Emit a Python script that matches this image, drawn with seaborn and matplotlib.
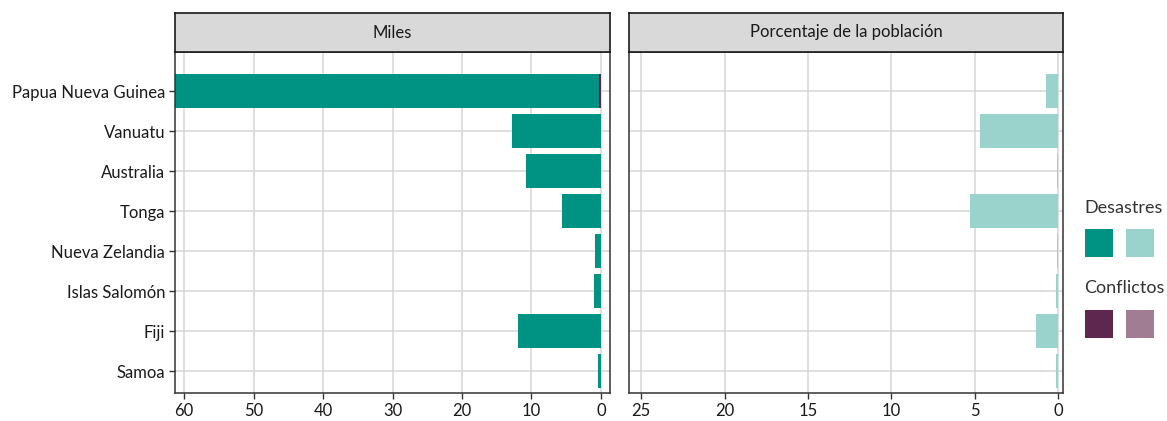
import pandas as pd
import matplotlib.pyplot as plt
import seaborn as sns
from matplotlib.patches import Rectangle

# datos
paises = ['Papua Nueva Guinea', 'Vanuatu', 'Australia', 'Tonga',
          'Nueva Zelandia', 'Islas Salomón', 'Fiji', 'Samoa']
desastres_miles = [61.0, 12.8, 10.8, 5.6, 0.9, 1.05, 12.0, 0.4]
conflictos_miles = [0.25, 0, 0, 0, 0, 0, 0, 0]
desastres_pct = [0.76, 4.72, 0.06, 5.32, 0.05, 0.16, 1.36, 0.16]
conflictos_pct = [0.0, 0, 0, 0, 0, 0, 0, 0]

df = pd.DataFrame({
    'pais': paises,
    'des_miles': desastres_miles,
    'con_miles': conflictos_miles,
    'des_pct': desastres_pct,
    'con_pct': conflictos_pct,
})
df['tot_miles'] = df['des_miles'] + df['con_miles']
df['tot_pct'] = df['des_pct'] + df['con_pct']

teal = '#009383'
teal_claro = '#99D3CC'
morado = '#5E2750'
morado_claro = '#A07D93'

sns.set_theme(style='whitegrid')
plt.rcParams['font.family'] = ['Lato', 'DejaVu Sans']

W, H = 1167, 421
fig = plt.figure(figsize=(W / 100, H / 100), dpi=100)

def fx(px):
    return px / W

def fy(py):
    return 1 - py / H

ax1 = fig.add_axes([fx(175), fy(393), fx(435), (393 - 52) / H])
ax2 = fig.add_axes([fx(629), fy(393), fx(434), (393 - 52) / H])

paneles = [
    (ax1, 'tot_miles', 'con_miles', teal, morado, (61.3, -1.3), range(0, 61, 10), 'Miles'),
    (ax2, 'tot_pct', 'con_pct', teal_claro, morado_claro, (25.73, -0.28), range(0, 26, 5),
     'Porcentaje de la población'),
]

for ax, col_tot, col_con, c_des, c_con, lims, ticks, titulo in paneles:
    sns.barplot(data=df, y='pais', x=col_tot, order=paises, color=c_des,
                width=0.85, linewidth=0, saturation=1, ax=ax, orient='h')
    sns.barplot(data=df, y='pais', x=col_con, order=paises, color=c_con,
                width=0.85, linewidth=0, saturation=1, ax=ax, orient='h')
    ax.set_xlim(*lims)
    ax.set_ylim(7.55, -0.975)
    ax.set_xticks(list(ticks))
    ax.set_xlabel('')
    ax.set_ylabel('')
    ax.grid(True, color='#d6d6d6', linewidth=1.1)
    ax.set_axisbelow(True)
    for s in ax.spines.values():
        s.set_color('#333333')
        s.set_linewidth(1.1)
    ax.tick_params(axis='both', direction='out', length=4, width=1, color='#333333',
                   labelsize=12, labelcolor='#1a1a1a', pad=3, bottom=True, left=True)
    # tira con el título del panel
    pos = ax.get_position()
    strip = fig.add_axes([pos.x0, fy(52), pos.width, 39 / H])
    strip.set_facecolor('#d9d9d9')
    strip.set_xticks([])
    strip.set_yticks([])
    for s in strip.spines.values():
        s.set_color('#1a1a1a')
        s.set_linewidth(1.2)
    strip.text(0.5, 0.5, titulo, ha='center', va='center', fontsize=12, color='#1a1a1a')

ax2.set_yticklabels([])
ax2.tick_params(axis='y', left=False)

# leyenda
fig.text(fx(1084), fy(208), 'Desastres', fontsize=13, color='#333333', va='center')
fig.text(fx(1084), fy(288), 'Conflictos', fontsize=13, color='#333333', va='center')
for x0, y0, c in [(1085, 229, teal), (1126, 229, teal_claro),
                  (1085, 310, morado), (1126, 310, morado_claro)]:
    fig.add_artist(Rectangle((fx(x0), fy(y0 + 28)), 28 / W, 28 / H,
                             transform=fig.transFigure, color=c, lw=0))

fig.savefig('out.png', dpi=100)
